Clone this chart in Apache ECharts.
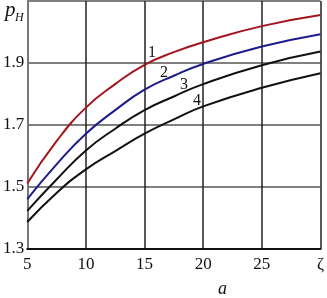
<!DOCTYPE html>
<html>
<head>
<meta charset="utf-8">
<script src="https://cdn.jsdelivr.net/npm/echarts@6/dist/echarts.min.js"></script>
<style>
  html, body { margin: 0; padding: 0; background: #fff; }
  #chart { width: 327px; height: 298px; }
</style>
</head>
<body>
<div id="chart"></div>
<script>
// значения по оси a
const aValues = [5, 7.5, 10, 12.5, 15, 17.5, 20, 25, 30];
// кривые 1..4
const curve1 = [1.511, 1.648, 1.756, 1.832, 1.894, 1.935, 1.967, 2.019, 2.055];
const curve2 = [1.461, 1.573, 1.672, 1.748, 1.814, 1.859, 1.897, 1.953, 1.993];
const curve3 = [1.423, 1.524, 1.618, 1.688, 1.748, 1.792, 1.832, 1.893, 1.937];
const curve4 = [1.387, 1.481, 1.557, 1.616, 1.672, 1.718, 1.760, 1.820, 1.867];
const curveNames = ['1', '2', '3', '4'];
const curveColors = ['#a3141c', '#1c1c8c', '#111', '#111'];

const serif = '"Liberation Serif", "DejaVu Serif", serif';

let chart = echarts.init(document.getElementById('chart'));

const toPairs = arr => arr.map((v, i) => [aValues[i], v]);

chart.setOption({
    animation: false,
    grid: { left: 25, right: 2, top: 1, bottom: 49, containLabel: false },
    xAxis: {
        type: 'value',
        min: 5, max: 30, interval: 5,
        axisLine: { show: true, lineStyle: { color: '#111', width: 2 } },
        axisTick: { show: false },
        splitLine: { show: true, lineStyle: { color: '#222', width: 1.5 } },
        axisLabel: {
            color: '#111', fontFamily: serif, fontSize: 17, margin: 7,
            formatter: v => v === 30 ? 'ζ' : String(v)
        }
    },
    yAxis: {
        type: 'value',
        min: 1.3, max: 2.1, interval: 0.2,
        axisLine: { show: true, lineStyle: { color: '#777', width: 2 } },
        axisTick: { show: false },
        splitLine: { show: true, lineStyle: { color: '#808080', width: 2 } },
        axisLabel: {
            color: '#111', fontFamily: serif, fontSize: 17, margin: 3,
            formatter: v => Math.abs(v - 2.1) < 1e-6 ? '' : v.toFixed(1)
        }
    },
    series: [curve1, curve2, curve3, curve4].map((c, i) => ({
        name: curveNames[i],
        type: 'line',
        smooth: true,
        showSymbol: false,
        data: toPairs(c),
        lineStyle: { color: curveColors[i], width: 2 }
    })),
    graphic: [
        { type: 'text', left: 148, top: 45, style: { text: '1', font: '16px ' + serif, fill: '#111' } },
        { type: 'text', left: 160, top: 65, style: { text: '2', font: '16px ' + serif, fill: '#111' } },
        { type: 'text', left: 180, top: 77, style: { text: '3', font: '16px ' + serif, fill: '#111' } },
        { type: 'text', left: 193, top: 93, style: { text: '4', font: '16px ' + serif, fill: '#111' } },
        { type: 'text', left: 5, top: 0, style: { text: 'p', font: 'italic 21px ' + serif, fill: '#111' } },
        { type: 'text', left: 15, top: 12, style: { text: 'H', font: 'italic 12px ' + serif, fill: '#111' } },
        { type: 'text', left: 218, top: 280, style: { text: 'a', font: 'italic 18px ' + serif, fill: '#111' } }
    ]
});
</script>
</body>
</html>
